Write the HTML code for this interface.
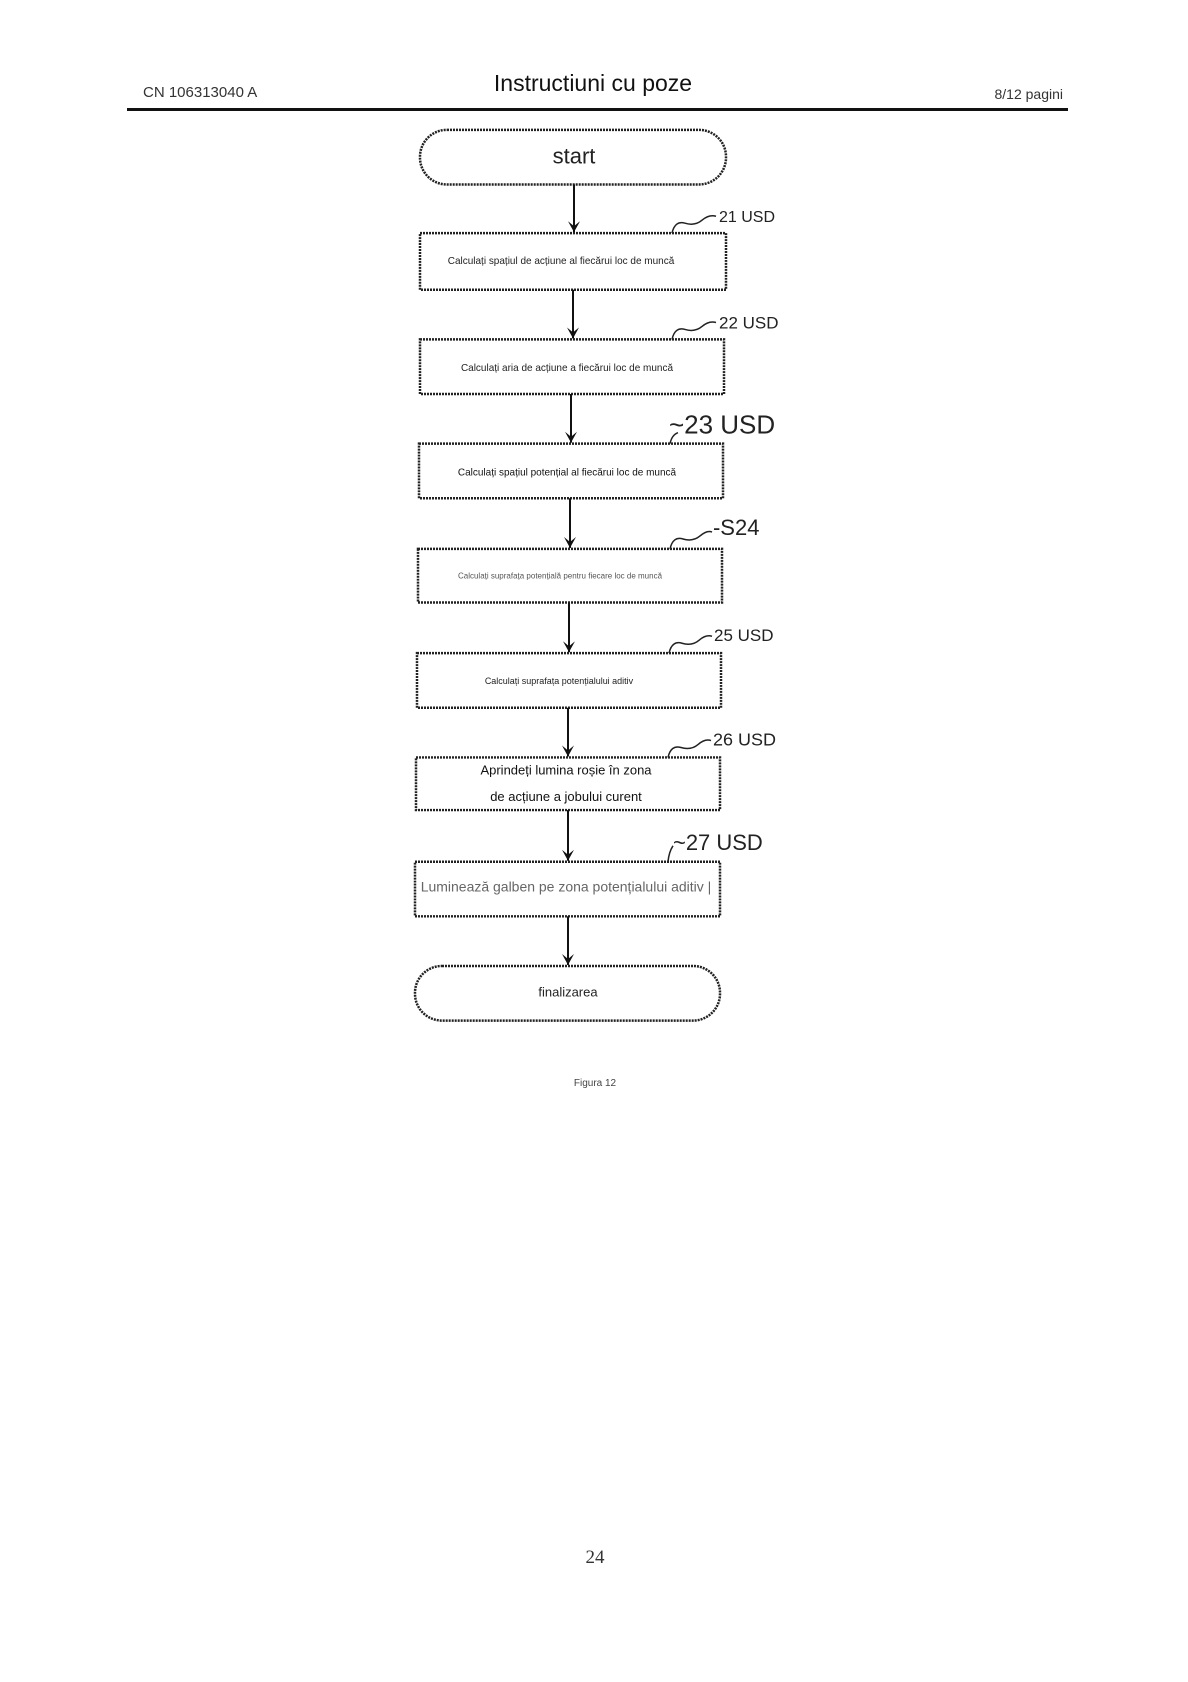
<!DOCTYPE html>
<html><head><meta charset="utf-8"><style>
html,body{margin:0;padding:0;background:#fff;}
svg{display:block;font-family:"Liberation Sans",sans-serif;}
</style></head><body>
<svg width="1188" height="1682" viewBox="0 0 1188 1682" xmlns="http://www.w3.org/2000/svg">
<defs><marker id="a" markerWidth="12" markerHeight="12" refX="6" refY="11" orient="0" markerUnits="userSpaceOnUse"><path d="M0,0 L6,11 L12,0 L6,5 Z" fill="#111"/></marker></defs>
<text x="143" y="97" font-size="15" fill="#333">CN 106313040 A</text>
<text x="593" y="91" font-size="23" fill="#111" text-anchor="middle">Instructiuni cu poze</text>
<text x="1063" y="99" font-size="14" fill="#333" text-anchor="end">8/12 pagini</text>
<rect x="127" y="108" width="941" height="3" fill="#111"/>
<g transform="translate(0,110) scale(1,0.993) translate(0,-111)">
<g fill="none" stroke="#222" stroke-width="2.5" stroke-dasharray="2 1">
<rect x="420" y="131" width="306" height="55" rx="27"/>
<rect x="420" y="235" width="306" height="57"/>
<rect x="420" y="342" width="304" height="55"/>
<rect x="419" y="447" width="304" height="55"/>
<rect x="418" y="553" width="304" height="54"/>
<rect x="417" y="658" width="304" height="55"/>
<rect x="416" y="763" width="304" height="53"/>
<rect x="415" y="868" width="305" height="55"/>
<rect x="415" y="973" width="305" height="55" rx="27"/>
</g>
<g stroke="#111" stroke-width="2" marker-end="url(#a)">
<line x1="574" y1="186" x2="574" y2="234"/>
<line x1="573" y1="292" x2="573" y2="341"/>
<line x1="571" y1="397" x2="571" y2="446"/>
<line x1="570" y1="502" x2="570" y2="552"/>
<line x1="569" y1="607" x2="569" y2="657"/>
<line x1="568" y1="713" x2="568" y2="762"/>
<line x1="568" y1="816" x2="568" y2="867"/>
<line x1="568" y1="923" x2="568" y2="972"/>
</g>
<g fill="none" stroke="#222" stroke-width="1.5">
<path d="M672,235 Q675,222 685,225 T702,222 T716,218"/>
<path d="M672,342 Q675,329 685,332 T702,329 T716,325"/>
<path d="M670,447 Q672,438 678,436"/>
<path d="M670,553 Q673,540 683,543 T700,540 T712,536"/>
<path d="M669,658 Q672,645 682,648 T699,645 T712,641"/>
<path d="M668,763 Q671,750 681,753 T698,750 T711,746"/>
<path d="M668,868 Q669,858 673,852"/>
</g>
<g fill="#222">
<text x="719" y="224" font-size="16">21 USD</text>
<text x="719" y="331" font-size="17">22 USD</text>
<text x="669" y="437" font-size="26">~23 USD</text>
<text x="713" y="539" font-size="22">-S24</text>
<text x="714" y="646" font-size="17">25 USD</text>
<text x="713" y="751" font-size="18">26 USD</text>
<text x="673" y="856" font-size="22">~27 USD</text>
</g>
<g text-anchor="middle" fill="#222">
<text x="574" y="165" font-size="22">start</text>
<text x="561" y="266" font-size="10">Calculați spațiul de acțiune al fiecărui loc de muncă</text>
<text x="567" y="374" font-size="10">Calculați aria de acțiune a fiecărui loc de muncă</text>
<text x="567" y="479" font-size="10" fill="#111">Calculați spațiul potențial al fiecărui loc de muncă</text>
<text x="560" y="583" font-size="8" fill="#555">Calculați suprafața potențială pentru fiecare loc de muncă</text>
<text x="559" y="689" font-size="9">Calculați suprafața potențialului aditiv</text>
<text x="566" y="780" font-size="13" fill="#111">Aprindeți lumina roșie în zona</text>
<text x="566" y="807" font-size="13" fill="#111">de acțiune a jobului curent</text>
<text x="566" y="898" font-size="14" fill="#666">Luminează galben pe zona potențialului aditiv |</text>
<text x="568" y="1004" font-size="13">finalizarea</text>
</g>
</g>
<g text-anchor="middle" fill="#222">
<text x="595" y="1086" font-size="10" fill="#444">Figura 12</text>
<text x="595" y="1563" font-size="19" font-family="Liberation Serif,serif" fill="#333">24</text>
</g>
</svg>
</body></html>
